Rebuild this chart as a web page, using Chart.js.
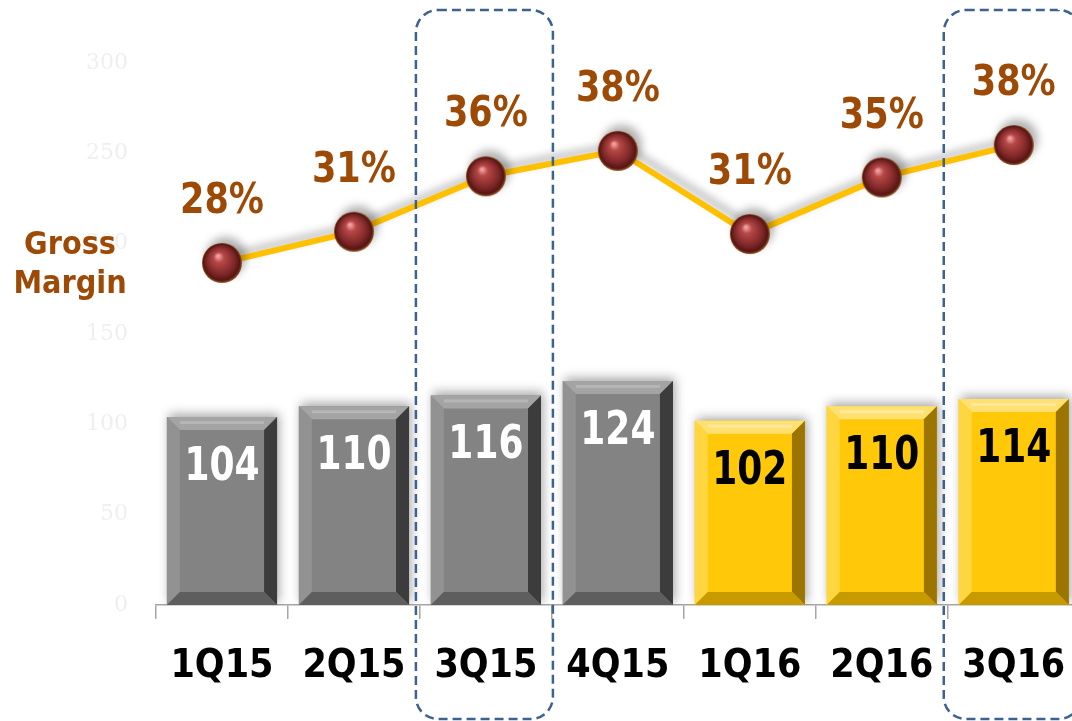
<!DOCTYPE html>
<html>
<head>
<meta charset="utf-8">
<script src="https://cdn.jsdelivr.net/npm/chart.js@4.4.1/dist/chart.umd.min.js"></script>
<style>
  html, body { margin: 0; padding: 0; background: #fff; overflow: hidden; }
  #wrap { position: relative; width: 1090px; height: 721px; }
</style>
</head>
<body>
<div id="wrap"><canvas id="grafico"></canvas></div>
<script>
// Dados por trimestre
const trimestres = ['1Q15', '2Q15', '3Q15', '4Q15', '1Q16', '2Q16', '3Q16'];
const receita = [104, 110, 116, 124, 102, 110, 114];
const margemBruta = [28.0, 30.7, 35.5, 37.7, 30.5, 35.4, 38.2];
const destaques = ['3Q15', '3Q16']; // trimestres com moldura tracejada

const FONTE = '"DejaVu Sans Condensed", "DejaVu Sans", Verdana, sans-serif';
const MARROM = '#9c4a06';

// esfera usada como ponto da linha
function criaEsfera(r) {
    const c = document.createElement('canvas');
    c.width = c.height = r * 2 + 2;
    const g = c.getContext('2d');
    const grad = g.createRadialGradient(r * 0.85, r * 0.7, 1, r + 1, r + 1, r);
    grad.addColorStop(0, '#f0a0a0');
    grad.addColorStop(0.22, '#b84848');
    grad.addColorStop(0.7, '#7c2626');
    grad.addColorStop(0.9, '#561515');
    grad.addColorStop(1, '#94561e');
    g.fillStyle = grad;
    g.beginPath();
    g.arc(r + 1, r + 1, r, 0, Math.PI * 2);
    g.fill();
    return c;
}
const esfera = criaEsfera(20);

const ehCinza = t => t.endsWith('15');

// texto levemente esticado na vertical, como no original
function texto(ctx, s, x, y, sy) {
    ctx.save();
    ctx.translate(x, y);
    ctx.scale(1, sy);
    ctx.fillText(s, 0, 0);
    ctx.restore();
}

// sombra nos conjuntos de dados
const sombraPlugin = {
    id: 'sombra',
    beforeDatasetDraw(chart, args) {
        const ctx = chart.ctx;
        ctx.save();
        if (args.index === 0) {
            ctx.shadowColor = 'rgba(0,0,0,0.35)';
            ctx.shadowBlur = 10;
            ctx.shadowOffsetX = 2;
            ctx.shadowOffsetY = -3;
        } else {
            ctx.shadowColor = 'rgba(0,0,0,0.3)';
            ctx.shadowBlur = 8;
            ctx.shadowOffsetX = 4;
            ctx.shadowOffsetY = -6;
        }
    },
    afterDatasetDraw(chart, args) {
        const ctx = chart.ctx;
        ctx.restore();
        if (args.index !== 0) return;
        // chanfro das barras + rótulos
        const meta = chart.getDatasetMeta(0);
        meta.data.forEach((bar, i) => {
            const cinza = ehCinza(trimestres[i]);
            const l = bar.x - bar.width / 2, r = bar.x + bar.width / 2;
            const t = bar.y, b = bar.base, s = 13;
            const cores = cinza
                ? { topo: '#a4a4a4', esq: '#929292', dir: '#3c3c3c', base: '#5e5e5e' }
                : { topo: '#ffe070', esq: '#ffd640', dir: '#9c7400', base: '#c79a00' };
            const poly = (pts, cor) => {
                ctx.beginPath();
                ctx.moveTo(pts[0][0], pts[0][1]);
                pts.slice(1).forEach(p => ctx.lineTo(p[0], p[1]));
                ctx.closePath();
                ctx.fillStyle = cor;
                ctx.fill();
            };
            poly([[l, t], [r, t], [r - s, t + s], [l + s, t + s]], cores.topo);
            poly([[l, t], [l + s, t + s], [l + s, b - s], [l, b]], cores.esq);
            poly([[r, t], [r, b], [r - s, b - s], [r - s, t + s]], cores.dir);
            poly([[l, b], [l + s, b - s], [r - s, b - s], [r, b]], cores.base);
            ctx.fillStyle = cinza ? 'rgba(255,255,255,0.2)' : 'rgba(255,255,255,0.3)';
            ctx.fillRect(l + s, t + 4, r - l - 2 * s, 3);

            ctx.font = 'bold 40px ' + FONTE;
            ctx.textAlign = 'center';
            ctx.textBaseline = 'middle';
            ctx.fillStyle = cinza ? '#ffffff' : '#000000';
            texto(ctx, String(receita[i]), bar.x, t + 51, 1.15);
        });
    }
};

const extrasPlugin = {
    id: 'extras',
    afterDraw(chart) {
        const ctx = chart.ctx;
        const x = chart.scales.x;
        // rótulos da margem
        const meta = chart.getDatasetMeta(1);
        ctx.save();
        ctx.font = 'bold 39px ' + FONTE;
        ctx.textAlign = 'center';
        ctx.textBaseline = 'middle';
        ctx.fillStyle = MARROM;
        meta.data.forEach((p, i) => {
            texto(ctx, Math.round(margemBruta[i]) + '%', p.x, p.y - 61, 1.1);
        });
        // título lateral
        ctx.font = 'bold 32px ' + FONTE;
        ctx.fillText('Gross', 70, 246);
        ctx.fillText('Margin', 70, 285);
        // molduras tracejadas
        ctx.strokeStyle = '#3d6190';
        ctx.lineWidth = 2.5;
        ctx.setLineDash([9, 5]);
        destaques.forEach(q => {
            const cx = x.getPixelForValue(trimestres.indexOf(q));
            ctx.beginPath();
            ctx.roundRect(cx - 70, 10, 137, 709, 22);
            ctx.stroke();
        });
        ctx.restore();
    }
};

const ctx = document.getElementById('grafico').getContext('2d');
const grafico = new Chart(ctx, {
    data: {
        labels: trimestres,
        datasets: [{
            type: 'bar',
            data: receita,
            yAxisID: 'y',
            backgroundColor: trimestres.map(t => ehCinza(t) ? '#838383' : '#ffc90a'),
            borderWidth: 0,
            categoryPercentage: 1,
            barPercentage: 0.835,
            order: 1
        }, {
            type: 'line',
            data: margemBruta,
            yAxisID: 'y1',
            borderColor: '#ffc000',
            borderWidth: 6,
            tension: 0,
            pointStyle: esfera,
            order: 0
        }]
    },
    options: {
        responsive: true,
        maintainAspectRatio: false,
        animation: false,
        events: [],
        layout: { padding: { top: 63, right: 9, left: 0, bottom: 0 } },
        plugins: {
            legend: { display: false },
            tooltip: { enabled: false }
        },
        scales: {
            x: {
                grid: {
                    offset: true,
                    drawOnChartArea: false,
                    drawTicks: true,
                    tickLength: 14,
                    color: '#a6a6a6',
                    lineWidth: 1.5
                },
                border: { display: true, color: '#a6a6a6', width: 1.5 },
                ticks: {
                    color: '#000',
                    padding: 24,
                    font: { family: FONTE, size: 39, weight: 'bold' }
                },
                afterFit(scale) { scale.height = 116; }
            },
            y: {
                min: 0,
                max: 300,
                ticks: {
                    stepSize: 50,
                    color: '#efefef',
                    padding: 28,
                    font: { family: 'DejaVu Serif, serif', size: 22 }
                },
                grid: { display: false, drawTicks: false },
                border: { display: false },
                afterFit(scale) { scale.width = 156; }
            },
            y1: {
                display: false,
                min: -1.6,
                max: 45.3
            }
        }
    },
    plugins: [sombraPlugin, extrasPlugin]
});
</script>
</body>
</html>
